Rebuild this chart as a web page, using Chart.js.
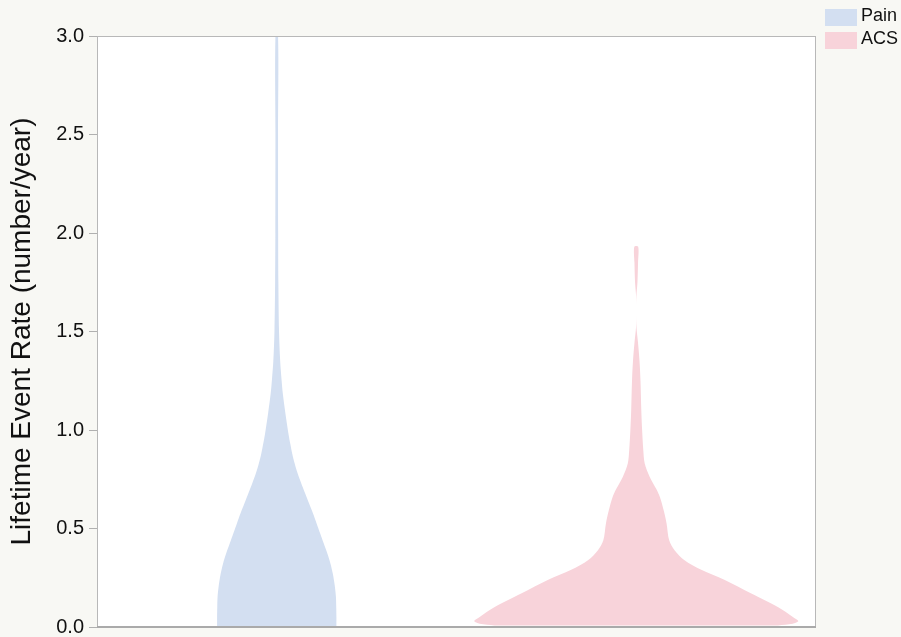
<!DOCTYPE html>
<html><head><meta charset="utf-8">
<script src="https://cdn.jsdelivr.net/npm/chart.js@4.4.0/dist/chart.umd.min.js"></script>
<style>
html,body{margin:0;padding:0;background:#f8f8f4;}
#wrap{position:relative;width:901px;height:637px;}
#legend{position:absolute;left:825px;top:6px;font-family:"Liberation Sans",Arial,Helvetica,sans-serif;font-size:18px;color:#111;}
.item{display:flex;align-items:center;height:23px;}
.sw{width:32px;height:17px;margin-right:4px;flex:none;}
.lbl{position:relative;top:-2px;}
</style></head><body>
<div id="wrap"><canvas id="c" width="901" height="637"></canvas><div id="legend"></div></div>
<script>
// ---- data ----
const categories = ["Pain", "ACS"];
const yTicks = [0.0, 0.5, 1.0, 1.5, 2.0, 2.5, 3.0];
// event rate levels (number/year) and estimated relative density at each level
const painRate    = [0.005, 0.05, 0.10, 0.154, 0.21, 0.27, 0.32, 0.374, 0.425, 0.476, 0.527, 0.577, 0.628, 0.679, 0.73, 0.78, 0.83, 0.88, 0.93, 0.98, 1.085, 1.186, 1.25, 1.35, 1.5, 1.75, 2.0, 2.5, 3.0];
const painDensity = [0.366, 0.366, 0.365, 0.363, 0.356, 0.344, 0.330, 0.310, 0.288, 0.266, 0.244, 0.222, 0.198, 0.174, 0.150, 0.128, 0.110, 0.095, 0.083, 0.072, 0.053, 0.037, 0.030, 0.021, 0.014, 0.010, 0.0086, 0.008, 0.008];
const acsRate     = [0.008, 0.016, 0.03, 0.05, 0.10, 0.17, 0.24, 0.29, 0.34, 0.39, 0.44, 0.526, 0.59, 0.66, 0.70, 0.763, 0.83, 0.90, 1.00, 1.10, 1.25, 1.35, 1.45, 1.52, 1.60, 1.68, 1.75, 1.85, 1.93];
const acsDensity  = [0.870, 0.960, 0.994, 0.963, 0.871, 0.706, 0.540, 0.399, 0.294, 0.235, 0.202, 0.186, 0.169, 0.145, 0.123, 0.082, 0.052, 0.043, 0.036, 0.031, 0.026, 0.020, 0.010, 0.0015, 0.0, 0.001, 0.0074, 0.011, 0.012];
const colors = ["#d3dff1", "#f8d3da"];

// ---- build ----
const FONT = '"Liberation Sans", Arial, Helvetica, sans-serif';
const maxHalfWidth = 0.4534; // in category-axis units
function violin(rates, dens, center) {
  const right = rates.map((r, i) => ({x: center + dens[i] * maxHalfWidth, y: r}));
  const left = rates.map((r, i) => ({x: center - dens[i] * maxHalfWidth, y: r})).reverse();
  return right.concat(left);
}
const series = [[painRate, painDensity], [acsRate, acsDensity]];
const datasets = categories.map((name, i) => ({
  label: name,
  data: violin(series[i][0], series[i][1], i + 0.5),
  backgroundColor: colors[i],
  borderColor: colors[i],
  borderWidth: 0,
  pointRadius: 0,
  fill: 'shape',
  tension: 0.3
}));

const lg = document.getElementById('legend');
categories.forEach((name, i) => {
  const d = document.createElement('div'); d.className = 'item';
  d.innerHTML = '<span class="sw" style="background:' + colors[i] + '"></span><span class="lbl">' + name + '</span>';
  lg.appendChild(d);
});

const frame = {
  id: 'frame',
  beforeDatasetsDraw(chart) {
    const {ctx, chartArea: a} = chart;
    ctx.save(); ctx.fillStyle = '#ffffff';
    ctx.fillRect(a.left, a.top, a.right - a.left, a.bottom - a.top);
    ctx.restore();
  },
  afterDatasetsDraw(chart) {
    const {ctx, chartArea: a} = chart;
    ctx.save();
    ctx.strokeStyle = '#b8b8b8'; ctx.lineWidth = 1;
    ctx.strokeRect(a.left + 0.5, a.top + 0.5, a.right - a.left - 1, a.bottom - a.top);
    ctx.strokeStyle = '#aaaaaa'; ctx.lineWidth = 2;
    ctx.beginPath(); ctx.moveTo(a.left, a.bottom); ctx.lineTo(a.right, a.bottom); ctx.stroke();
    ctx.restore();
  }
};

new Chart(document.getElementById('c'), {
  type: 'line',
  data: {datasets},
  options: {
    responsive: false,
    animation: false,
    devicePixelRatio: 1,
    layout: {padding: {left: 0, top: 36, right: 85, bottom: 10}},
    plugins: {legend: {display: false}, tooltip: {enabled: false}},
    scales: {
      x: {type: 'linear', min: 0, max: 2, display: false},
      y: {
        type: 'linear', min: 0, max: 3,
        afterBuildTicks: s => { s.ticks = yTicks.map(v => ({value: v})); },
        afterFit: s => { s.width = 97; s.paddingTop = 0; s.paddingBottom = 0; },
        ticks: {callback: v => Number(v).toFixed(1), color: '#111', font: {family: FONT, size: 20}, padding: 5},
        grid: {display: true, drawOnChartArea: false, drawTicks: true, tickLength: 8, color: '#b0b0b0'},
        border: {display: false},
        title: {display: true, text: 'Lifetime Event Rate (number/year)', color: '#111', font: {family: FONT, size: 28}, padding: {top: 5, bottom: 0}}
      }
    }
  },
  plugins: [frame]
});
</script>
</body></html>
